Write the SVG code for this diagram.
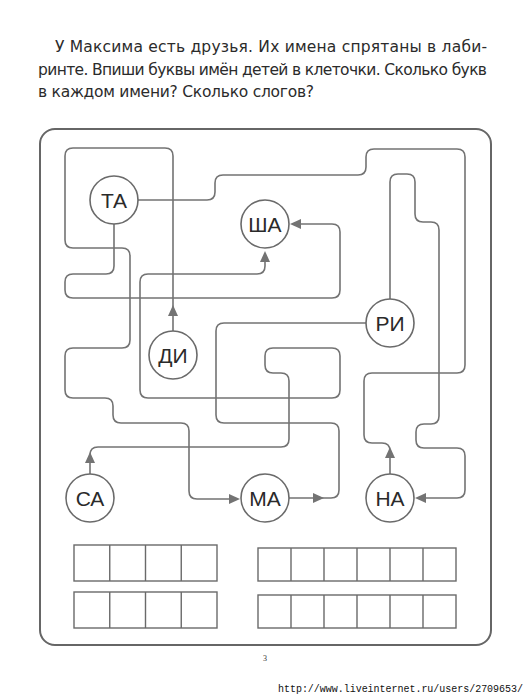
<svg xmlns="http://www.w3.org/2000/svg" xmlns:xlink="http://www.w3.org/1999/xlink" width="530" height="699" viewBox="0 0 530 699">
<style>
.t{font-family:"DejaVu Sans","Liberation Sans",sans-serif;font-size:15.5px;fill:#2b2b2b}
.m{fill:none;stroke:#737373;stroke-width:1.6}
.n circle{fill:#fff;stroke:#6a6a6a;stroke-width:1.6}
.n text{font-family:"Liberation Sans","DejaVu Sans",sans-serif;font-size:21px;fill:#2a2a2a;text-anchor:middle}
.box{fill:none;stroke:#6a6a6a;stroke-width:1.4}
.ah{fill:#737373}
</style>
<defs>
<path id="ah" d="M0,0 L-11,-5 L-11,5 Z"/>
</defs>
<rect width="530" height="699" fill="#fff"/>
<text class="t" x="55" y="52" textLength="432" lengthAdjust="spacing">У Максима есть друзья. Их имена спрятаны в лаби-</text>
<text class="t" x="38" y="75" textLength="449" lengthAdjust="spacing">ринте. Впиши буквы имён детей в клеточки. Сколько букв</text>
<text class="t" x="38" y="97" textLength="276" lengthAdjust="spacing">в каждом имени? Сколько слогов?</text>
<rect x="40" y="129" width="451" height="516" rx="15" fill="none" stroke="#666" stroke-width="2"/>
<g id="connectors">
<path class="m" d="M138,200 H207 Q215,200 215,192 V183 Q215,175 223,175 H358 Q366,175 366,167 V157 Q366,149 374,149 H457 Q465,149 465,157 V365 Q465,373 457,373 H372 Q364,373 364,381 V435 Q364,443 372,443 H382 Q390,443 390,451 M390,474 V456"/>
<path class="m" d="M114,224 V266 Q114,274 106,274 H73 Q65,274 65,282 V290 Q65,298 73,298 H332 Q340,298 340,290 V232 Q340,224 332,224 H298"/>
<path class="m" d="M173,331 V156 Q173,148 165,148 H73 Q65,148 65,156 V240 Q65,248 73,248 H122 Q130,248 130,256 V340 Q130,348 122,348 H73 Q65,348 65,356 V390 Q65,398 73,398 H105 Q113,398 113,406 V415 Q113,423 121,423 H181 Q189,423 189,431 V491 Q189,499 197,499 H231"/>
<path class="m" d="M90,474 V455 Q90,447 98,447 H281 Q289,447 289,439 V381 Q289,373 281,373 H273 Q265,373 265,365 V356 Q265,348 273,348 H332 Q340,348 340,356 V390 Q340,398 332,398 H148 Q140,398 140,390 V282 Q140,274 148,274 H257 Q265,274 265,266 V260"/>
<path class="m" d="M366,323 H224 Q216,323 216,331 V415 Q216,423 224,423 H331 Q339,423 339,431 V490 Q339,498 331,498 H289"/>
<path class="m" d="M390,299 V182 Q390,174 398,174 H407 Q415,174 415,182 V214 Q415,222 423,222 H431 Q439,222 439,230 V416 Q439,424 431,424 H424 Q416,424 416,432 V440 Q416,448 424,448 H457 Q465,448 465,456 V490 Q465,498 457,498 H424"/>
<use class="ah" xlink:href="#ah" transform="translate(390,447) rotate(-90)"/>
<use class="ah" xlink:href="#ah" transform="translate(290,224) rotate(180)"/>
<use class="ah" xlink:href="#ah" transform="translate(173,305) rotate(-90)"/>
<use class="ah" xlink:href="#ah" transform="translate(90,452) rotate(-90)"/>
<use class="ah" xlink:href="#ah" transform="translate(265,251) rotate(-90)"/>
<use class="ah" xlink:href="#ah" transform="translate(240,499)"/>
<use class="ah" xlink:href="#ah" transform="translate(324,498)"/>
<use class="ah" xlink:href="#ah" transform="translate(415,498) rotate(180)"/>
</g>
<g id="n-ta" class="n"><circle cx="114" cy="200" r="24"/><text x="114" y="207.5">ТА</text></g>
<g id="n-sha" class="n"><circle cx="265" cy="224" r="24"/><text x="265" y="231.5">ША</text></g>
<g id="n-di" class="n"><circle cx="173" cy="355" r="24"/><text x="173" y="362.5">ДИ</text></g>
<g id="n-ri" class="n"><circle cx="390" cy="323" r="24"/><text x="390" y="330.5">РИ</text></g>
<g id="n-sa" class="n"><circle cx="90" cy="498" r="24"/><text x="90" y="505.5">СА</text></g>
<g id="n-ma" class="n"><circle cx="265" cy="498" r="24"/><text x="265" y="505.5">МА</text></g>
<g id="n-na" class="n"><circle cx="390" cy="498" r="24"/><text x="390" y="505.5">НА</text></g>
<g id="grid-left">
<rect class="box" x="74" y="545" width="143" height="36"/>
<path class="box" d="M109.75,545 V581 M145.5,545 V581 M181.25,545 V581"/>
<rect class="box" x="74" y="592" width="143" height="36"/>
<path class="box" d="M109.75,592 V628 M145.5,592 V628 M181.25,592 V628"/>
</g>
<g id="grid-right">
<rect class="box" x="258" y="548" width="198" height="33"/>
<path class="box" d="M291,548 V581 M324,548 V581 M357,548 V581 M390,548 V581 M423,548 V581"/>
<rect class="box" x="258" y="595" width="198" height="33"/>
<path class="box" d="M291,595 V628 M324,595 V628 M357,595 V628 M390,595 V628 M423,595 V628"/>
</g>
<text x="263" y="661" font-family="Liberation Serif, serif" font-size="8" fill="#333">3</text>
<text x="278" y="692" font-family="Liberation Mono, monospace" font-size="10" fill="#111" textLength="245" lengthAdjust="spacing">http://www.liveinternet.ru/users/2709653/</text>
</svg>
